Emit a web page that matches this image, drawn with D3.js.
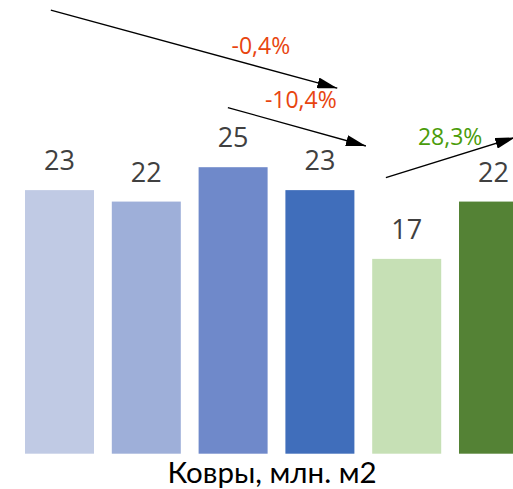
<!DOCTYPE html>
<html><head><meta charset="utf-8">
<script src="https://cdn.jsdelivr.net/npm/d3@7/dist/d3.min.js"></script>
<style>html,body{margin:0;padding:0;background:#fff;overflow:hidden}</style>
</head><body>
<svg id="c" width="513" height="489"></svg>
<script>
const categories = ["1", "2", "3", "4", "5", "6"];
const values = [23, 22, 25, 23, 17, 22];
const colors = ["#C0CAE4", "#9EAFD9", "#6F89CA", "#406EBB", "#C6E0B5", "#548235"];
const title = "Ковры, млн. м2";
// annotation arrows: positions in category-index units (bar centers = 0..5) and value units
const arrowFrom = [[-0.10, 38.7], [1.94, 30.2], [3.76, 24.1]];
const arrowTo   = [[3.20, 31.9], [3.53, 26.85], [5.25, 27.6]];
const changeLabels = ["-0,4%", "-10,4%", "28,3%"];
const changeLabelPos = [[2.32, 34.9], [2.78, 30.2], [4.50, 26.95]];
const changeColors = ["#E8450F", "#E8450F", "#4A9C0A"];

const svg = d3.select("#c");
const step = 86.8, padIn = 0.205;
const x = d3.scaleBand().domain(categories)
  .range([25 - step * padIn / 2, 25 - step * padIn / 2 + step * categories.length])
  .paddingInner(padIn).paddingOuter(padIn / 2);
const y = d3.scaleLinear().domain([0, 25]).range([453.7, 453.7 - 25 * 11.46]);
const xi = d3.scaleLinear().domain([0, 1])
  .range([x(categories[0]) + x.bandwidth() / 2, x(categories[1]) + x.bandwidth() / 2]);

svg.append("defs").append("marker").attr("id", "ah")
  .attr("viewBox", "0 0 10 10").attr("refX", 10).attr("refY", 5)
  .attr("markerWidth", 20).attr("markerHeight", 11).attr("markerUnits", "userSpaceOnUse")
  .attr("orient", "auto").attr("preserveAspectRatio", "none")
  .append("path").attr("d", "M0,0 L10,5 L0,10 Z").attr("fill", "#000");

svg.selectAll("rect.bar").data(values).join("rect").attr("class", "bar")
  .attr("x", (d, i) => x(categories[i])).attr("width", x.bandwidth())
  .attr("y", d => y(d)).attr("height", d => y(0) - y(d))
  .attr("fill", (d, i) => colors[i]);

svg.selectAll("text.val").data(values).join("text").attr("class", "val")
  .attr("x", (d, i) => x(categories[i]) + x.bandwidth() / 2)
  .attr("y", d => y(d) - 20)
  .attr("text-anchor", "middle").attr("font-family", "Open Sans, sans-serif")
  .attr("font-size", 27).attr("fill", "#404040").text(d => d);

svg.selectAll("line.arr").data(arrowFrom).join("line").attr("class", "arr")
  .attr("x1", d => xi(d[0])).attr("y1", d => y(d[1]))
  .attr("x2", (d, i) => xi(arrowTo[i][0])).attr("y2", (d, i) => y(arrowTo[i][1]))
  .attr("stroke", "#000").attr("stroke-width", 1.3).attr("marker-end", "url(#ah)");

svg.selectAll("text.chg").data(changeLabels).join("text").attr("class", "chg")
  .attr("x", (d, i) => xi(changeLabelPos[i][0])).attr("y", (d, i) => y(changeLabelPos[i][1]))
  .attr("text-anchor", "middle").attr("font-family", "Open Sans, sans-serif")
  .attr("font-size", 23).attr("fill", (d, i) => changeColors[i]).text(d => d);

svg.append("text").attr("x", 272).attr("y", 483).attr("text-anchor", "middle")
  .attr("font-family", "Lato, sans-serif").attr("font-size", 29.5).attr("fill", "#000")
  .text(title);
</script>
</body></html>
